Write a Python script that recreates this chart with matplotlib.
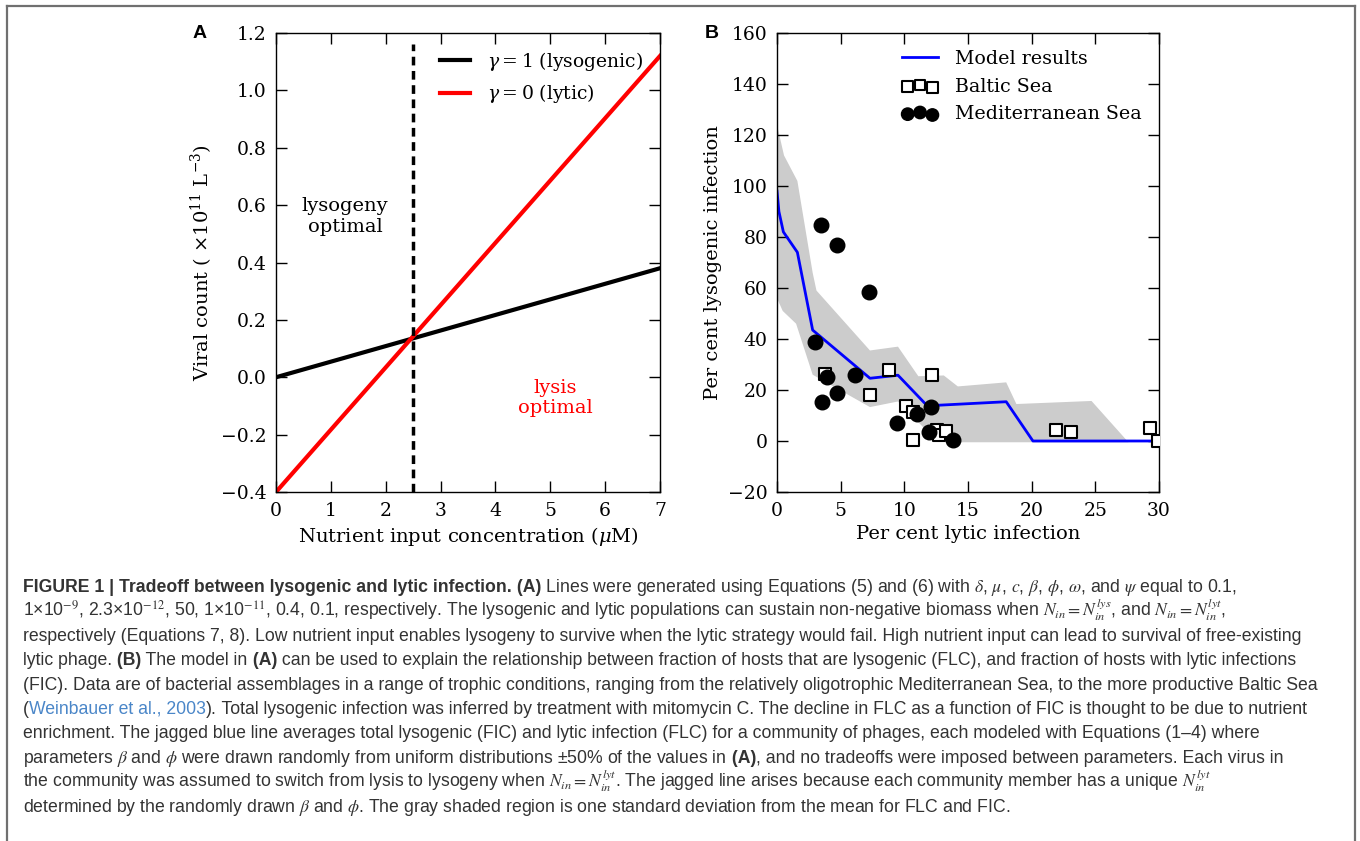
import numpy as np
import matplotlib.pyplot as plt
from matplotlib.lines import Line2D

plt.rcParams['font.family'] = 'DejaVu Serif'
plt.rcParams['mathtext.fontset'] = 'dejavuserif'

# ---- panel A data
nutrient = [0, 7]
lysogenic = [0.0, 0.38]
lytic = [-0.4, 1.12]
threshold = 2.5

# ---- panel B data
model_x = [0, 0.15, 0.5, 1.6, 2.8, 7.3, 9.5, 11.8, 18.0, 20.1, 30]
model_y = [98, 90, 82, 74, 43.5, 24.6, 25.8, 13.8, 15.4, 0, 0]

band_up_x = [0, 0.55, 1.6, 2.8, 3.1, 7.3, 9.5, 11.1, 13.1, 14.2, 18.0, 18.8, 24.7, 27.6]
band_up_y = [124, 112, 102, 66, 59, 35.5, 37, 25.4, 25.7, 21.4, 23, 14.5, 15.7, -0.5]
band_lo_x = [0, 0.45, 1.5, 2.8, 7.3, 9.5, 11.7, 13.6, 27.6]
band_lo_y = [56, 51, 46, 26, 13.3, 15.5, 4.3, -0.5, -0.5]

baltic_x = [3.8, 8.8, 12.2, 7.3, 10.1, 10.7, 10.7, 12.6, 12.75, 13.3, 21.9, 23.1, 29.3, 29.9]
baltic_y = [26.3, 28, 25.7, 18, 13.7, 11.3, 0.3, 4.5, 2.2, 3.8, 4.3, 3.6, 5, 0]

med_x = [3.45, 4.7, 7.2, 3.0, 3.9, 6.15, 3.5, 4.7, 9.4, 11.0, 12.1, 11.9, 13.8]
med_y = [84.6, 76.8, 58.3, 39, 25.1, 25.9, 15.3, 18.9, 7, 10.4, 13.3, 3.7, 0.4]

W, H = 1360, 841
fig = plt.figure(figsize=(W / 100, H / 100), dpi=100)


def style_axes(ax):
    ax.tick_params(direction='in', length=8, width=1, top=True, right=True,
                   labelsize=13.5, pad=7)
    for s in ax.spines.values():
        s.set_linewidth(1)


# ---- panel A
axA = fig.add_axes([276 / W, 1 - 492 / H, 384 / W, 459 / H])
axA.plot(nutrient, lysogenic, color='black', lw=3, label=r'$\gamma=1$ (lysogenic)')
axA.plot(nutrient, lytic, color='red', lw=3, label=r'$\gamma=0$ (lytic)')
axA.axvline(threshold, ymax=0.975, color='black', lw=2.5, dashes=(2.5, 1.6))
axA.set_xlim(0, 7)
axA.set_ylim(-0.4, 1.2)
axA.set_xticks(range(0, 8))
axA.set_yticks(np.round(np.arange(-0.4, 1.21, 0.2), 1))
axA.set_xlabel(r'Nutrient input concentration ($\mu$M)', fontsize=14)
axA.set_ylabel(r'Viral count ( $\times10^{11}$ L$^{-3}$)', fontsize=14)
axA.text(1.26, 0.56, 'lysogeny\noptimal', fontsize=14, ha='center', va='center')
axA.text(5.09, -0.072, 'lysis\noptimal', fontsize=14, ha='center', va='center', color='red')
axA.legend(loc='upper right', frameon=False, fontsize=13.5, handlelength=1.6,
           handletextpad=0.9)
style_axes(axA)

# ---- panel B
axB = fig.add_axes([777 / W, 1 - 492 / H, 382 / W, 459 / H])
axB.fill(np.concatenate([band_up_x, band_lo_x[::-1]]),
         np.concatenate([band_up_y, band_lo_y[::-1]]),
         color='#cccccc', lw=0)
axB.plot(model_x, model_y, color='blue', lw=2, label='Model results')
axB.scatter(baltic_x, baltic_y, marker='s', s=80, facecolor='white',
            edgecolor='black', lw=1.5, label='Baltic Sea', zorder=3)
axB.scatter(med_x, med_y, marker='o', s=110, color='black',
            label='Mediterranean Sea', zorder=4)
axB.set_xlim(0, 30)
axB.set_ylim(-20, 160)
axB.set_xticks(range(0, 31, 5))
axB.set_yticks(range(-20, 161, 20))
axB.set_xlabel('Per cent lytic infection', fontsize=14)
axB.set_ylabel('Per cent lysogenic infection', fontsize=14)
axB.legend(loc='upper right', frameon=False, fontsize=13.7, scatterpoints=3,
           handlelength=1.9, markerscale=0.85, handletextpad=0.9)
style_axes(axB)

fig.text(200 / W, 1 - 33 / H, 'A', fontsize=14, fontweight='bold',
         family='Liberation Sans', ha='center', va='center')
fig.text(712 / W, 1 - 33 / H, 'B', fontsize=14, fontweight='bold',
         family='Liberation Sans', ha='center', va='center')

# ---- frame
for xs, ys in [([7 / W, 1355 / W], [1 - 6 / H, 1 - 6 / H]),
               ([7 / W, 7 / W], [0, 1 - 6 / H]),
               ([1355 / W, 1355 / W], [0, 1 - 6 / H])]:
    fig.add_artist(Line2D(xs, ys, color='#707070', lw=1.6))

# ---- caption
BOLD = dict(fontweight='bold')
NORM = {}
LINK = dict(color='#4a86c8')
caption = [
    [("FIGURE 1 | Tradeoff between lysogenic and lytic infection.", BOLD), (" (A)", BOLD),
     (r" Lines were generated using Equations (5) and (6) with $\delta$, $\mu$, $c$, $\beta$, $\phi$, $\omega$, and $\psi$ equal to 0.1,", NORM)],
    [(r"1×10$^{-9}$, 2.3×10$^{-12}$, 50, 1×10$^{-11}$, 0.4, 0.1, respectively. The lysogenic and lytic populations can sustain non-negative biomass when $N_{in}=N_{in}^{lys}$, and $N_{in}=N_{in}^{lyt}$,", NORM)],
    [("respectively (Equations 7, 8). Low nutrient input enables lysogeny to survive when the lytic strategy would fail. High nutrient input can lead to survival of free-existing", NORM)],
    [("lytic phage.", NORM), (" (B)", BOLD), (" The model in", NORM), (" (A)", BOLD),
     (" can be used to explain the relationship between fraction of hosts that are lysogenic (FLC), and fraction of hosts with lytic infections", NORM)],
    [("(FIC). Data are of bacterial assemblages in a range of trophic conditions, ranging from the relatively oligotrophic Mediterranean Sea, to the more productive Baltic Sea", NORM)],
    [("(", NORM), ("Weinbauer et al., 2003", LINK), (").", NORM),
     (" Total lysogenic infection was inferred by treatment with mitomycin C. The decline in FLC as a function of FIC is thought to be due to nutrient", NORM)],
    [("enrichment. The jagged blue line averages total lysogenic (FIC) and lytic infection (FLC) for a community of phages, each modeled with Equations (1–4) where", NORM)],
    [(r"parameters $\beta$ and $\phi$ were drawn randomly from uniform distributions ±50% of the values in", NORM), (" (A)", BOLD),
     (", and no tradeoffs were imposed between parameters. Each virus in", NORM)],
    [(r"the community was assumed to switch from lysis to lysogeny when $N_{in}=N_{in}^{lyt}$. The jagged line arises because each community member has a unique $N_{in}^{lyt}$", NORM)],
    [(r"determined by the randomly drawn $\beta$ and $\phi$. The gray shaded region is one standard deviation from the mean for FLC and FIC.", NORM)],
]

renderer = fig.canvas.get_renderer()
cap_x0, cap_y0, cap_dy = 23, 592, 24.4


def put_line(parts, y, size):
    x = cap_x0
    made = []
    for s, kw in parts:
        kw = dict(kw)
        color = kw.pop('color', '#333333')
        t = fig.text(x / W, 1 - y / H, s, fontsize=size, va='baseline', ha='left',
                     family='Liberation Sans', color=color, math_fontfamily='stix', **kw)
        made.append(t)
        x = t.get_window_extent(renderer).x1
    return made, x - cap_x0


# calibrate font size on a plain line ending near the right frame
made, width = put_line(caption[4], cap_y0, 12)
for t in made:
    t.remove()
cap_size = 12 * 1299 / width

for i, parts in enumerate(caption):
    put_line(parts, cap_y0 + i * cap_dy, cap_size)

fig.savefig('out.png', dpi=100)
